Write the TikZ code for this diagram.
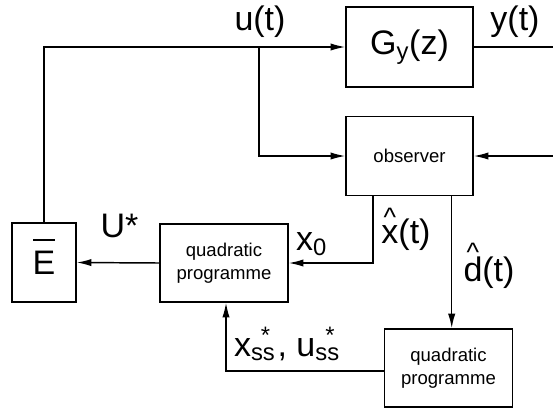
\documentclass[tikz,border=0pt]{standalone}
\usepackage{fontspec}
\setmainfont{Liberation Sans}
\usetikzlibrary{arrows.meta}
\newcommand{\bigtxt}{\fontsize{25.5}{30}\selectfont}
\newcommand{\smalltxt}{\fontsize{13.9}{17.25}\selectfont}
\newcommand{\ssstar}{\textsubscript{ss}\kern-.43em\textsuperscript{*}\kern.2em}
\newcommand{\hatted}[2]{\ooalign{#2\cr\hidewidth\raisebox{#1}{\fontsize{20}{20}\selectfont\char"5E}\hidewidth\cr}}
\newcommand{\barred}[1]{\ooalign{#1\cr\hidewidth\smash{\raisebox{25pt}{\rule{16.5pt}{1.1pt}}}\hidewidth\cr}}

\begin{document}
\begin{tikzpicture}[x=0.75pt, y=-0.75pt, line width=1.1pt,
      >={Latex[length=11pt,width=5.5pt]},
      blk/.style={draw, line width=1.1pt, inner sep=0pt, align=center, font=\smalltxt},
      lbl/.style={font=\bigtxt, inner sep=0pt, anchor=base},
      sig/.style={->}]
    \useasboundingbox (0,0) rectangle (553,415);
    \node[blk, minimum width=95.25pt, minimum height=60pt, font=\bigtxt] (plant) at (409.5,47) {G\textsubscript{y}(z)};
    \node[blk, minimum width=95.25pt, minimum height=59.25pt] (obs) at (409.5,156) {observer};
    \node[blk, minimum width=48pt, minimum height=59.25pt, font=\bigtxt] (ebar) at (44,262.5) {\barred{E}};
    \node[blk, minimum width=96pt, minimum height=58.5pt] (qp) at (224,263) {quadratic\\programme};
    \node[blk, minimum width=96pt, minimum height=58.5pt] (qpss) at (448.5,368) {quadratic\\programme};

    \coordinate (ubranch) at (259,47);
    \coordinate (yout) at (553,47);
    \coordinate (meas) at (553,156);
    \coordinate (xcol) at (373,263);
    \coordinate (dcol) at (451.7,300);
    \coordinate (sscorner) at (226,371);

    \node[lbl] (ulbl) at (260,30) {u(t)};
    \node[lbl] (ylbl) at (515,30) {y(t)};
    \node[lbl] (Ulbl) at (119.5,237) {U*};
    \node[lbl] (x0lbl) at (311.5,250) {x\textsubscript{0}};
    \node[lbl] (xhlbl) at (406,243) {\hatted{12.5pt}{x}(t)};
    \node[lbl] (dhlbl) at (489,281.7) {\hatted{15.5pt}{d}(t)};
    \node[lbl] (sslbl) at (288,356) {x\ssstar, u\ssstar};

    \draw[sig] (ebar.north) |- (plant.west);
    \draw[sig] (ubranch) |- (obs.west);
    \draw (plant.east) -- (yout);
    \draw[sig] (meas) -- (obs.east);
    \draw[sig] (obs.south -| xcol) |- (qp.east);
    \draw[sig] (qp.west) -- (ebar.east);
    \draw[sig] (obs.south -| dcol) -- (dcol |- qpss.north);
    \draw[sig] (sscorner -| qpss.west) -- (sscorner) -- (sscorner |- qp.south);
  \end{tikzpicture}
\end{document}
